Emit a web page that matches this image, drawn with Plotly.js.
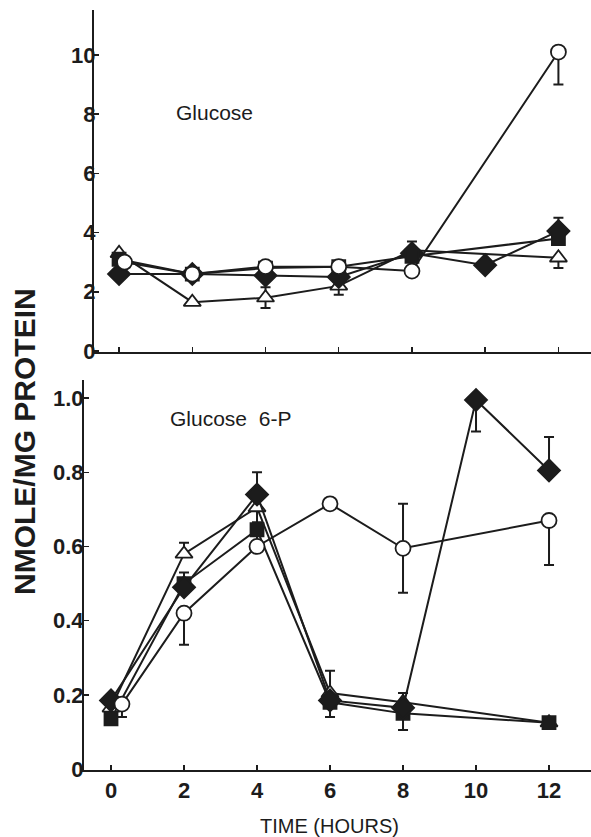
<!DOCTYPE html>
<html>
<head>
<meta charset="utf-8">
<script src="https://cdn.plot.ly/plotly-3.0.1.min.js"></script>
<style>html,body{margin:0;padding:0;background:#fff;}#chart{width:591px;height:837px;}</style>
</head>
<body>
<div id="chart"></div>
<script>
// ---------- Data: Glucose (top panel) ----------
const gluCircleX   = [0.15, 2, 4, 6, 8, 12];
const gluCircle    = [3.0, 2.6, 2.85, 2.85, 2.7, 10.1];
const gluCircleUp  = [0, 0, 0, 0, 0, 0];
const gluCircleDn  = [0, 0, 0, 0, 0, 1.1];

const gluSquareX   = [0, 2, 4, 6, 8, 12];
const gluSquare    = [3.1, 2.6, 2.8, 2.85, 3.2, 3.8];

const gluDiamondX  = [0, 2, 4, 6, 8, 10, 12];
const gluDiamond   = [2.6, 2.6, 2.55, 2.5, 3.3, 2.9, 4.05];
const gluDiamondUp = [0, 0, 0, 0, 0, 0, 0.45];
const gluDiamondDn = [0, 0, 0, 0, 0, 0, 0];

const gluTriX      = [0, 2, 4, 6, 8, 12];
const gluTri       = [3.3, 1.65, 1.8, 2.2, 3.4, 3.15];
const gluTriUp     = [0, 0, 0.35, 0, 0.3, 0];
const gluTriDn     = [0, 0, 0.35, 0.3, 0, 0.35];

// ---------- Data: Glucose 6-P (bottom panel) ----------
const g6CircleX    = [0.3, 2, 4, 6, 8, 12];
const g6Circle     = [0.175, 0.42, 0.60, 0.715, 0.595, 0.67];
const g6CircleUp   = [0, 0, 0, 0, 0.12, 0];
const g6CircleDn   = [0.035, 0.085, 0, 0, 0.12, 0.12];

const g6SquareX    = [0, 2, 4, 6, 8, 12];
const g6Square     = [0.135, 0.50, 0.645, 0.18, 0.15, 0.125];
const g6SquareUp   = [0, 0.03, 0, 0, 0, 0];
const g6SquareDn   = [0, 0, 0.05, 0.04, 0.045, 0];

const g6DiamondX   = [0, 2, 4, 6, 8, 10, 12];
const g6Diamond    = [0.185, 0.49, 0.74, 0.185, 0.165, 0.995, 0.805];
const g6DiamondUp  = [0, 0, 0.06, 0, 0, 0, 0.09];
const g6DiamondDn  = [0, 0, 0, 0, 0, 0.085, 0];

const g6TriX       = [0, 2, 4, 6, 8, 12];
const g6Tri        = [0.165, 0.58, 0.705, 0.205, 0.18, 0.125];
const g6TriUp      = [0, 0.03, 0, 0.06, 0.025, 0];
const g6TriDn      = [0, 0, 0.04, 0, 0, 0];

const tickHours = [0, 2, 4, 6, 8, 10, 12];
const topTicks = [0, 2, 4, 6, 8, 10];
const topTickText = ['0', '2', '4', '6', '8', '10'];
const botTicks = [0, 0.2, 0.4, 0.6, 0.8, 1.0];
const botTickText = ['0', '0.2', '0.4', '0.6', '0.8', '1.0'];

const INK = '#1c1c1c';

function err(up, dn) {
  if (!up) return {visible: false};
  return {type: 'data', symmetric: false, array: up, arrayminus: dn,
          color: INK, thickness: 2, width: 5};
}

const SIZES = {'circle': 15, 'square': 13, 'diamond': 17, 'triangle-up': 15};

function trace(x, y, sym, fill, up, dn, ax) {
  return {
    x: x, y: y, type: 'scatter', mode: 'lines+markers',
    xaxis: ax === 2 ? 'x2' : 'x', yaxis: ax === 2 ? 'y2' : 'y',
    line: {color: INK, width: 2},
    marker: {symbol: sym, size: SIZES[sym], color: fill,
             line: {color: INK, width: 1.8}},
    error_y: err(up, dn),
    showlegend: false, cliponaxis: false, hoverinfo: 'skip'
  };
}

const data = [
  trace(gluTriX, gluTri, 'triangle-up', '#ffffff', gluTriUp, gluTriDn, 1),
  trace(gluDiamondX, gluDiamond, 'diamond', INK, gluDiamondUp, gluDiamondDn, 1),
  trace(gluSquareX, gluSquare, 'square', INK, null, null, 1),
  trace(gluCircleX, gluCircle, 'circle', '#ffffff', gluCircleUp, gluCircleDn, 1),

  trace(g6TriX, g6Tri, 'triangle-up', '#ffffff', g6TriUp, g6TriDn, 2),
  trace(g6SquareX, g6Square, 'square', INK, g6SquareUp, g6SquareDn, 2),
  trace(g6DiamondX, g6Diamond, 'diamond', INK, g6DiamondUp, g6DiamondDn, 2),
  trace(g6CircleX, g6Circle, 'circle', '#ffffff', g6CircleUp, g6CircleDn, 2)
];

const tickFont = {family: 'Liberation Sans, Arial, sans-serif', size: 22, color: INK, weight: 'bold'};

const axisBase = {
  showgrid: false, zeroline: false, showline: true, linecolor: INK, linewidth: 2,
  ticks: 'inside', ticklen: 5, tickwidth: 1.5, tickcolor: INK, fixedrange: true
};

const layout = {
  width: 591, height: 837,
  margin: {l: 84, r: 0, t: 10, b: 67},
  paper_bgcolor: '#ffffff', plot_bgcolor: '#ffffff',
  font: {family: 'Liberation Sans, Arial, sans-serif', color: INK},
  xaxis: Object.assign({}, axisBase, {
    domain: [0.0197, 1], range: [-0.685, 12.89], anchor: 'y',
    tickmode: 'array', tickvals: tickHours, showticklabels: false
  }),
  yaxis: Object.assign({}, axisBase, {
    domain: [0.55, 1], range: [-0.034, 11.52], anchor: 'x',
    tickmode: 'array', tickvals: topTicks, ticktext: topTickText,
    tickfont: tickFont, ticklabelstandoff: -8
  }),
  xaxis2: Object.assign({}, axisBase, {
    domain: [0, 1], range: [-0.74, 13.15], anchor: 'y2',
    tickmode: 'array', tickvals: tickHours, ticktext: tickHours.map(String),
    tickfont: tickFont, ticklabelstandoff: 0
  }),
  yaxis2: Object.assign({}, axisBase, {
    domain: [0, 0.513], range: [-0.0027, 1.0485], anchor: 'x2',
    tickmode: 'array', tickvals: botTicks, ticktext: botTickText,
    tickfont: tickFont, ticklabelstandoff: -6
  }),
  annotations: [
    {text: 'Glucose', xref: 'paper', yref: 'paper', x: 0.258, y: 0.8645,
     xanchor: 'center', yanchor: 'middle', showarrow: false,
     font: {size: 21, color: INK}},
    {text: 'Glucose  6-P', xref: 'paper', yref: 'paper', x: 0.288, y: 0.463,
     xanchor: 'center', yanchor: 'middle', showarrow: false,
     font: {size: 21, color: INK}},
    {text: 'TIME (HOURS)', xref: 'paper', yref: 'paper', x: 0.485, y: -0.0737,
     xanchor: 'center', yanchor: 'middle', showarrow: false,
     font: {size: 20, color: INK}},
    {text: 'NMOLE/MG PROTEIN', xref: 'paper', yref: 'paper', x: -0.1164, y: 0.4329,
     xanchor: 'center', yanchor: 'middle', showarrow: false, textangle: -90,
     font: {size: 30, color: INK, weight: 'bold'}}
  ]
};

Plotly.newPlot('chart', data, layout, {staticPlot: true, displayModeBar: false});
</script>
</body>
</html>
